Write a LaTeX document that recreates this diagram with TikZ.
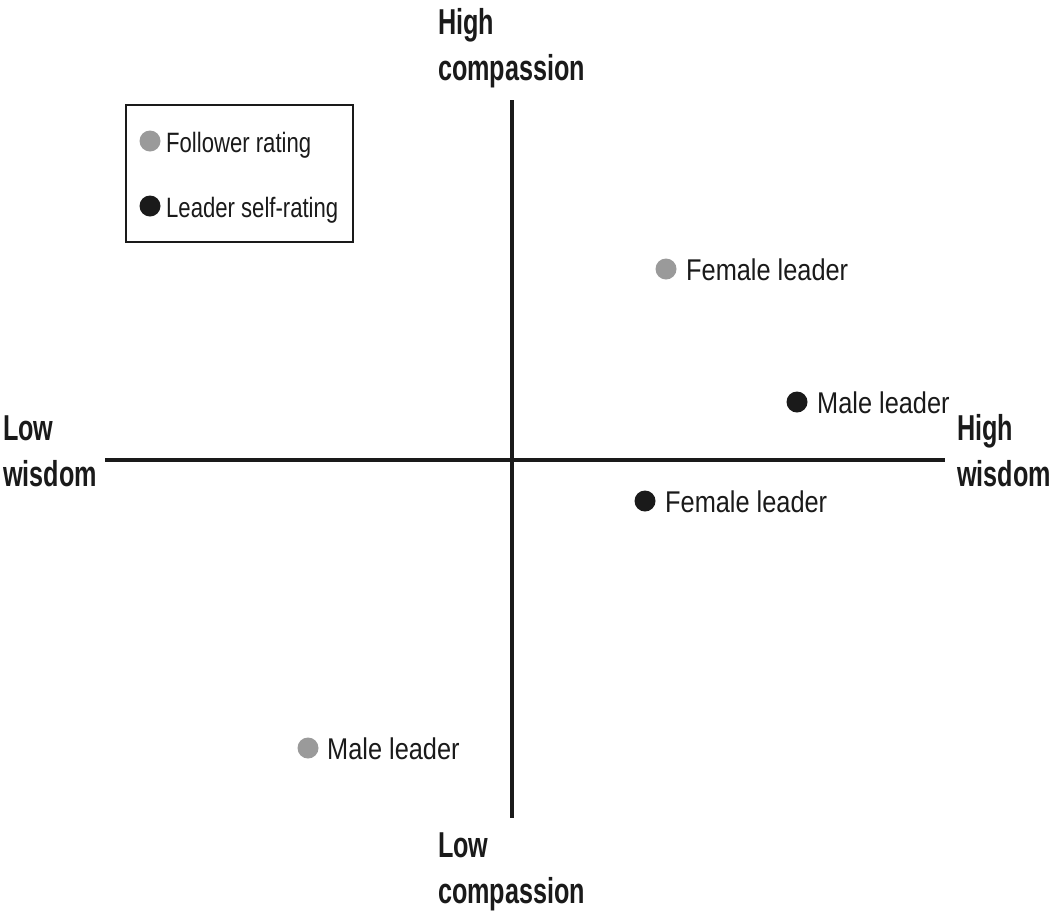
\documentclass[tikz,border=0pt]{standalone}
\usepackage{fontspec}
\setmainfont{Liberation Sans}
\definecolor{dotgray}{HTML}{9A9A9A}
\definecolor{ink}{HTML}{1A1A1A}
\begin{document}
\begin{tikzpicture}[x=1pt,y=1pt,
  axis/.style={draw=ink,line width=3.4pt},
  axislabel/.style={font=\fontsize{36}{46}\selectfont\bfseries,text=ink,align=left,
    xscale=0.7,transform shape,inner sep=0pt,anchor=base west},
  ptlabel/.style={font=\fontsize{30}{36}\selectfont,text=ink,
    xscale=0.845,transform shape,inner sep=0pt,anchor=base west},
  keylabel/.style={font=\fontsize{28}{34}\selectfont,text=ink,
    xscale=0.79,transform shape,inner sep=0pt,anchor=base west},
  graydot/.style={circle,fill=dotgray,minimum size=21pt,inner sep=0pt},
  blackdot/.style={circle,fill=ink,minimum size=21pt,inner sep=0pt},
  keybox/.style={draw=ink,line width=1.6pt}]
\useasboundingbox (0,0) rectangle (1051,-911);

% axes
\coordinate (wl) at (105,-460);
\coordinate (wr) at (945,-460);
\coordinate (ct) at (512,-100);
\coordinate (cb) at (512,-818);
\draw[axis] (wl) -- (wr);
\draw[axis] (ct) -- (cb);

% axis labels (anchored at the baseline of the second line)
\node[axislabel] (hc) at (438,-80) {High\\compassion};
\node[axislabel] (lc) at (438,-903) {Low\\compassion};
\node[axislabel] (lw) at (3,-486) {Low\\wisdom};
\node[axislabel] (hw) at (957,-486) {High\\wisdom};

% legend
\draw[keybox] (126,-105) rectangle (353,-242);
\node[graydot] (kf) at (150,-141) {};
\node[keylabel] (kft) at (166,-152) {Follower rating};
\node[blackdot] (kl) at (150,-206) {};
\node[keylabel] (klt) at (166,-217) {Leader self-rating};

% data points
\node[graydot] (ff) at (666,-269) {};
\node[ptlabel] (fft) at (686,-280) {Female leader};
\node[blackdot] (lm) at (797,-402) {};
\node[ptlabel] (lmt) at (817,-413) {Male leader};
\node[blackdot] (lf) at (645,-501) {};
\node[ptlabel] (lft) at (665,-512) {Female leader};
\node[graydot] (fm) at (308,-748) {};
\node[ptlabel] (fmt) at (327,-759) {Male leader};
\end{tikzpicture}
\end{document}
